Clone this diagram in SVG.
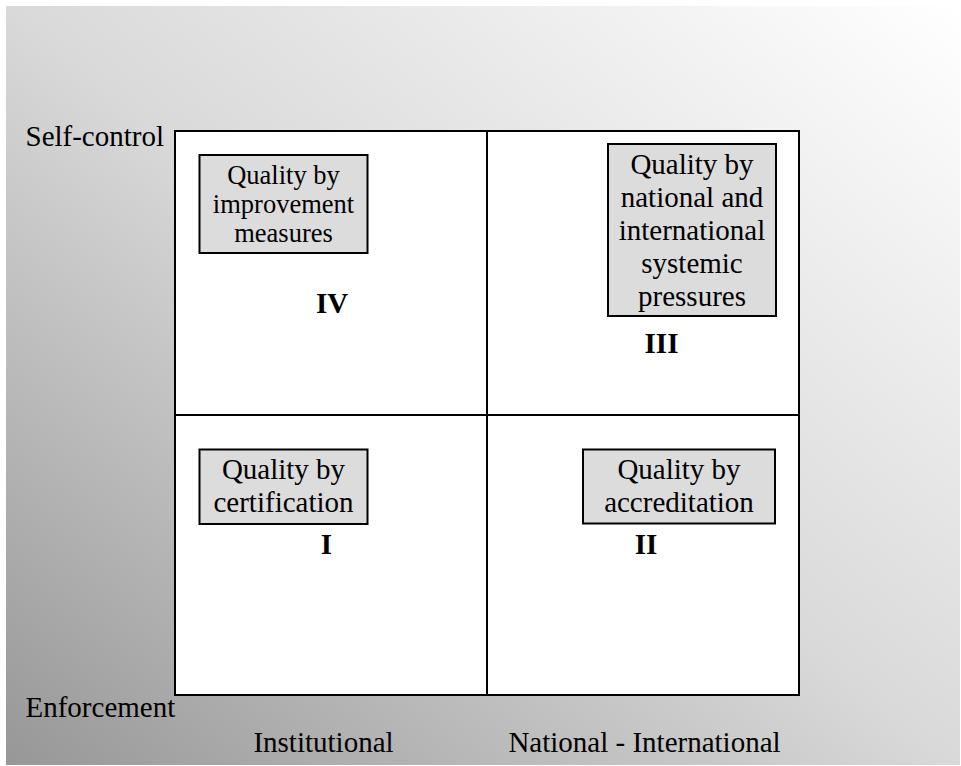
<svg xmlns="http://www.w3.org/2000/svg" width="961" height="766" viewBox="0 0 961 766">
  <defs>
    <linearGradient id="bg" x1="1" y1="0" x2="0" y2="1">
      <stop offset="0" stop-color="#ffffff"/>
      <stop offset="0.5" stop-color="#d9d9d9"/>
      <stop offset="1" stop-color="#979797"/>
    </linearGradient>
    <style>
      text { font-family: 'Liberation Serif', serif; fill: #000; }
      .lbl { font-size: 29px; }
      .box { fill: #dcdcdc; stroke: #000; stroke-width: 2; }
      .txt { font-size: 29px; text-anchor: middle; }
      .txts { font-size: 26.5px; }
      .num { font-size: 29px; font-weight: bold; text-anchor: middle; }
      .grid { stroke: #000; stroke-width: 2; fill: none; }
    </style>
  </defs>
  <rect x="0" y="0" width="961" height="766" fill="#ffffff"/>
  <rect x="6" y="6" width="954" height="759" fill="url(#bg)"/>

  <g id="axes">
    <text class="lbl" x="25.5" y="146">Self-control</text>
    <text class="lbl" x="25.5" y="717">Enforcement</text>
    <text class="lbl" x="323.5" y="752" text-anchor="middle">Institutional</text>
    <text class="lbl" x="644.5" y="752" text-anchor="middle">National - International</text>
  </g>

  <g id="grid">
    <rect x="175" y="131" width="624" height="564" fill="#ffffff" stroke="#000" stroke-width="2"/>
    <line class="grid" x1="487" y1="131" x2="487" y2="695"/>
    <line class="grid" x1="175" y1="415" x2="799" y2="415"/>
  </g>

  <g id="quadrant-IV">
    <rect class="box" x="199.5" y="155" width="168" height="98"/>
    <text class="txt txts" x="283.5" y="184">Quality by</text>
    <text class="txt txts" x="283.5" y="213">improvement</text>
    <text class="txt txts" x="283.5" y="242">measures</text>
    <text class="num" x="332" y="313">IV</text>
  </g>

  <g id="quadrant-III">
    <rect class="box" x="608" y="144" width="168" height="172"/>
    <text class="txt" x="692" y="174">Quality by</text>
    <text class="txt" x="692" y="207">national and</text>
    <text class="txt" x="692" y="240">international</text>
    <text class="txt" x="692" y="273">systemic</text>
    <text class="txt" x="692" y="306">pressures</text>
    <text class="num" x="661.5" y="353">III</text>
  </g>

  <g id="quadrant-I">
    <rect class="box" x="199.5" y="449.5" width="168" height="74.5"/>
    <text class="txt" x="283.5" y="479">Quality by</text>
    <text class="txt" x="283.5" y="512">certification</text>
    <text class="num" x="326.5" y="554">I</text>
  </g>

  <g id="quadrant-II">
    <rect class="box" x="583" y="449.5" width="192" height="74"/>
    <text class="txt" x="679" y="479">Quality by</text>
    <text class="txt" x="679" y="512">accreditation</text>
    <text class="num" x="646" y="554">II</text>
  </g>

  <g id="connectors"/>
</svg>
